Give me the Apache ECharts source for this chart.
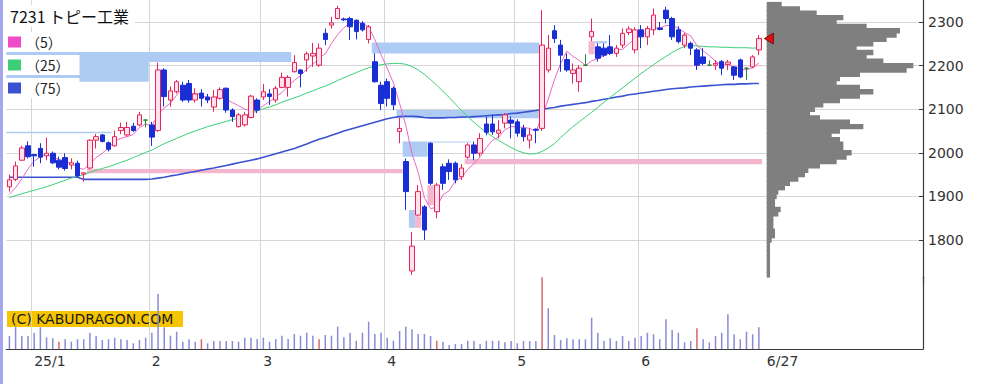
<!DOCTYPE html>
<html><head><meta charset="utf-8">
<script src="https://cdn.jsdelivr.net/npm/echarts@6.0.0/dist/echarts.min.js"></script>
<style>html,body{margin:0;padding:0;background:#fff}#c{width:989px;height:384px}</style>
</head><body><div id="c"></div>
<script>
const title = '7231 トピー工業';
const dates = ['12/25','12/26','12/27','12/30',
'01/06','01/07','01/08','01/09','01/10','01/14','01/15','01/16','01/17','01/20','01/21','01/22','01/23','01/24','01/27','01/28','01/29','01/30','01/31',
'02/03','02/04','02/05','02/06','02/07','02/10','02/12','02/13','02/14','02/17','02/18','02/19','02/20','02/21','02/25','02/26','02/27','02/28',
'03/03','03/04','03/05','03/06','03/07','03/10','03/11','03/12','03/13','03/14','03/17','03/18','03/19','03/21','03/24','03/25','03/26','03/27','03/28','03/31',
'04/01','04/02','04/03','04/04','04/07','04/08','04/09','04/10','04/11','04/14','04/15','04/16','04/17','04/18','04/21','04/22','04/23','04/24','04/25','04/28','04/30',
'05/01','05/02','05/07','05/08','05/09','05/12','05/13','05/14','05/15','05/16','05/19','05/20','05/21','05/22','05/23','05/26','05/27','05/28','05/29','05/30',
'06/02','06/03','06/04','06/05','06/06','06/09','06/10','06/11','06/12','06/13','06/16','06/17','06/18','06/19','06/20','06/23','06/24','06/25','06/26','06/27'];
const monthStarts = ['01/06','02/03','03/03','04/01','05/01','06/02'];
const tickLabels = {'01/06':'25/1','02/03':'2','03/03':'3','04/01':'4','05/01':'5','06/02':'6','06/27':'6/27'};

const opens = [1922,1939,1983,2016,1996,2010,1993,1999,1983,1989,1972,1976,1951,1965,2029,2041,2023,2016,2051,2041,
2061,2064,2075,2064,2051,2190,2121,2140,2155,2159,2121,2137,2128,2105,2125,2148,2098,2060,2064,2081,
2121,2128,2135,2121,2150,2150,2186,2190,2213,2222,2201,2274,2293,2308,2307,2308,2304,2297,2260,2209,
2155,2163,2148,2049,1980,1729,1857,1876,2022,1865,1968,1976,1976,1945,1990,2018,1999,2066,2066,2045,
2068,2075,2071,2056,2029,2054,2056,2190,2280,2247,2214,2182,2163,2201,2266,2243,2240,2243,2228,2247,
2276,2236,2282,2266,2282,2286,2327,2308,2282,2247,2251,2236,2220,2201,2201,2209,2203,2197,2213,2194,2197,2236];
const closes = [1938,1970,2011,1991,1993,1990,1999,1977,1967,1964,1977,1947,1954,2029,2037,2026,2008,2037,2058,2058,
2051,2087,2075,2036,2190,2129,2142,2163,2121,2121,2135,2125,2121,2128,2145,2098,2083,2087,2087,2130,
2098,2140,2129,2148,2173,2173,2207,2182,2227,2228,2240,2260,2298,2331,2305,2289,2278,2282,2289,2163,
2113,2125,2110,2056,1911,1786,1911,1823,1930,1926,1930,1957,1938,1965,2018,1999,2033,2047,2048,2052,
2087,2068,2045,2037,2041,2052,2247,2240,2262,2224,2190,2190,2194,2201,2278,2217,2224,2228,2240,2274,
2284,2282,2266,2285,2316,2283,2308,2266,2255,2270,2240,2201,2205,2201,2205,2194,2208,2178,2174,2194,2220,2262];
const lows = [1911,1935,1982,1987,1968,1976,1983,1974,1962,1959,1962,1944,1934,1962,2010,2024,2003,2014,2043,2037,
2048,2061,2058,2016,2048,2106,2106,2136,2117,2115,2115,2106,2114,2094,2122,2092,2071,2058,2060,2079,
2091,2121,2110,2115,2148,2129,2184,2150,2186,2197,2197,2247,2285,2306,2302,2259,2260,2278,2251,2161,
2098,2106,2098,2022,1869,1720,1854,1800,1926,1850,1915,1938,1930,1938,1986,1983,1991,2040,2041,2033,
2056,2033,2037,2026,2010,2022,2050,2184,2252,2186,2186,2159,2140,2199,2256,2209,2220,2224,2220,2240,
2270,2228,2240,2247,2270,2281,2297,2259,2251,2240,2224,2190,2201,2199,2190,2178,2190,2167,2171,2167,2194,2224];
const highs = [1950,1980,2016,2026,1997,2022,2035,2003,1991,1999,1987,1982,1955,2031,2043,2043,2026,2051,2069,2071,
2069,2094,2077,2071,2207,2194,2152,2167,2163,2167,2148,2146,2135,2144,2150,2150,2102,2091,2094,2133,
2125,2158,2146,2153,2184,2178,2224,2192,2232,2252,2251,2285,2312,2337,2310,2312,2306,2302,2293,2228,
2163,2170,2152,2080,1987,1818,1926,1880,2024,1931,1975,1985,1980,1974,2022,2026,2045,2083,2087,2075,
2091,2083,2077,2064,2056,2056,2327,2270,2293,2259,2228,2205,2201,2226,2308,2251,2251,2270,2247,2285,
2290,2288,2293,2291,2331,2300,2335,2312,2290,2275,2255,2240,2240,2212,2212,2213,2213,2199,2216,2196,2224,2270];

const ma5 = [1905,1920,1940,1963,1981,1991,1997,1990,1985,1979,1977,1966,1962,1974,1989,1999,2011,2027,2033,2037,
2042,2058,2066,2061,2088,2103,2114,2132,2149,2135,2136,2133,2125,2126,2131,2123,2115,2108,2100,2097,
2097,2108,2117,2129,2138,2153,2166,2177,2192,2203,2217,2227,2251,2271,2287,2297,2300,2297,2289,2260,
2225,2194,2160,2113,2063,1998,1955,1897,1872,1875,1904,1913,1936,1943,1962,1975,1991,2012,2029,2036,
2053,2060,2060,2058,2056,2049,2084,2123,2168,2205,2233,2221,2212,2200,2211,2216,2223,2230,2237,2237,
2250,2262,2269,2278,2287,2286,2292,2292,2286,2276,2268,2246,2234,2223,2210,2201,2203,2197,2192,2190,2195,2206];
const ma25 = [1897,1902,1906,1910,1914,1918,1922,1927,1932,1937,1942,1946,1950,1955,1960,1964,1968,1973,1978,1983,
1989,1995,2001,2006,2014,2021,2027,2033,2039,2045,2050,2055,2060,2064,2068,2072,2076,2080,2085,2090,
2096,2101,2105,2110,2116,2121,2126,2131,2137,2142,2148,2153,2159,2166,2172,2178,2184,2190,2195,2199,
2202,2204,2205,2205,2203,2198,2190,2180,2168,2155,2141,2127,2112,2097,2083,2070,2058,2047,2037,2028,
2020,2012,2005,2000,1997,1998,2003,2011,2021,2035,2048,2060,2071,2082,2093,2104,2116,2127,2138,2149,
2160,2171,2182,2192,2202,2212,2221,2230,2238,2244,2246,2245,2244,2243,2243,2242,2242,2241,2241,2241,2240,2241];
const ma75 = [1944,1944,1944,1944,1944,1944,1944,1944,1944,1944,1944,1944,1939,1939,1939,1939,1939,1939,1939,1939,
1939,1939,1939,1940,1942,1944,1947,1949,1952,1955,1957,1960,1963,1965,1968,1971,1974,1977,1980,1983,
1986,1990,1994,1998,2002,2006,2010,2015,2020,2026,2031,2035,2040,2045,2050,2054,2058,2062,2066,2070,
2074,2078,2081,2083,2084,2084,2083,2081,2080,2080,2080,2081,2081,2082,2082,2083,2084,2085,2086,2087,
2088,2090,2091,2093,2095,2097,2099,2102,2104,2107,2109,2111,2113,2115,2118,2120,2123,2125,2128,2130,
2133,2135,2137,2139,2141,2143,2145,2147,2148,2149,2151,2152,2153,2154,2155,2156,2157,2157,2158,2158,2159,2159];

const volumes = [130,223,130,130,163,217,117,107,73,97,73,97,97,163,130,90,97,113,97,90,
57,90,113,163,550,217,133,173,73,97,73,97,57,80,80,80,80,73,113,113,
100,113,73,100,133,100,150,133,163,133,97,140,133,223,117,163,83,163,273,150,
163,113,83,180,223,197,150,150,130,83,73,40,50,50,83,83,50,83,83,83,
67,80,57,80,80,80,717,407,140,90,107,97,97,97,313,163,83,107,80,130,
80,113,130,163,147,97,297,190,163,67,80,207,97,67,130,163,347,147,97,173,147,217];
const markedVolumeDays = [8,31,50,69,86,111];

// price gaps (窓): [first index, last index, low price, high price, direction]
const gapBands = [
  [0,45,2208,2231,'down'],
  [0,22,2163,2208,'down'],
  [0,16,2045,2048,'down'],
  [13,63,1953,1963,'up'],
  [59,85,2228,2253,'down'],
  [63,85,2079,2098,'down'],
  [64,67,1991,2026,'down'],
  [68,74,2024,2026,'down'],
  [65,65,1828,1869,'down'],
  [66,66,1828,1854,'up'],
  [68,68,1880,1926,'up'],
  [74,121,1974,1986,'up'],
  [93,121,2199,2201,'up'],
  [94,94,2226,2256,'up'],
  [95,96,2251,2256,'down']
];

// volume-at-price profile (bins of 10 yen)
const profileBin = 10;
const profilePrices = [1720,1730,1740,1750,1760,1770,1780,1790,1800,1810,1820,1830,1840,1850,1860,1870,1880,1890,1900,1910,
1920,1930,1940,1950,1960,1970,1980,1990,2000,2010,2020,2030,2040,2050,2060,2070,2080,2090,2100,2110,
2120,2130,2140,2150,2160,2170,2180,2190,2200,2210,2220,2230,2240,2250,2260,2270,2280,2290,2300,2310,2320,2330,2340];
const profileVolumes = [10,10,10,10,10,10,10,10,15,25,25,20,20,20,35,42,25,25,30,35,
55,70,95,115,125,160,210,240,255,230,230,220,195,220,290,250,160,130,145,170,
220,280,320,280,210,220,280,420,440,350,300,320,270,320,360,390,400,300,210,230,150,100,45];

const yTicks = [1800, 2300];
const priceRange = [1700, 2350];

const PAD = 26;
const categories = dates.concat(Array.from({length: PAD}, (_, k) => 'pad' + k));
const ohlc = dates.map((d, i) => [opens[i], closes[i], lows[i], highs[i]]);

const FONT = 'DejaVu Sans';
const JP = 'Noto Sans CJK JP';
const GRID = '#d6d6d6';
const AX = '#3a3a3a';
const isMonth = (i, v) => monthStarts.indexOf(v) >= 0;

const chart = echarts.init(document.getElementById('c'), null, {renderer: 'svg', width: 989, height: 384});

const legendBase = {
  orient: 'vertical', left: 4, itemWidth: 13, itemHeight: 11, itemGap: 0,
  padding: [3, 10, 3, 4], backgroundColor: '#fff', selectedMode: false,
  textStyle: {fontSize: 14, color: '#222', fontFamily: JP}
};

chart.setOption({
  animation: false,
  backgroundColor: '#fff',
  title: {text: title, left: 4, top: 5, padding: [3, 6, 3, 6], backgroundColor: '#fff',
    textStyle: {fontSize: 16, fontWeight: 'normal', color: '#111', fontFamily: JP}},
  legend: [
    Object.assign({}, legendBase, {top: 32, data: [{name: '（5）', icon: 'rect'}]}),
    Object.assign({}, legendBase, {top: 55, data: [{name: '（25）', icon: 'rect'}]}),
    Object.assign({}, legendBase, {top: 78, data: [{name: '（75）', icon: 'rect'}]})
  ],
  grid: [
    {left: 6.3, top: 0.2, width: 916.7, height: 283.4, containLabel: false, outerBoundsMode: 'none'},
    {left: 6.3, top: 277.3, width: 916.7, height: 71.7, containLabel: false, outerBoundsMode: 'none'},
    {left: 766.7, top: 0.2, width: 156.3, height: 283.4, containLabel: false, outerBoundsMode: 'none'},
    {left: 766.7, top: 22, width: 156.3, height: 218, containLabel: false, outerBoundsMode: 'none'}
  ],
  xAxis: [
    {gridIndex: 0, type: 'category', data: categories, boundaryGap: true,
      axisLine: {show: false}, axisTick: {show: false}, axisLabel: {show: false},
      splitLine: {show: true, interval: isMonth, lineStyle: {color: GRID, width: 1}}},
    {gridIndex: 1, type: 'category', data: categories, boundaryGap: true,
      axisLine: {show: true, onZero: false, lineStyle: {color: AX, width: 1.2}},
      axisTick: {show: false},
      axisLabel: {show: true, interval: (i, v) => tickLabels[v] !== undefined, align: 'left', margin: 5,
        fontSize: 14, color: '#333', fontFamily: FONT,
        formatter: v => v === dates[dates.length - 1] ? '{e|' + tickLabels[v] + '}' : (tickLabels[v] || ''),
        rich: {e: {padding: [0, 0, 0, 8], fontSize: 14, color: '#333', fontFamily: FONT}}},
      splitLine: {show: true, interval: isMonth, lineStyle: {color: GRID, width: 1}}},
    {gridIndex: 2, type: 'value', min: 0, max: 469, show: false},
    {gridIndex: 3, type: 'value', min: 0, max: 1, show: false}
  ],
  yAxis: [
    {gridIndex: 0, type: 'value', min: priceRange[0], max: priceRange[1], interval: 100,
      axisLine: {show: false}, axisTick: {show: false}, axisLabel: {show: false},
      splitLine: {show: true, showMinLine: false, showMaxLine: false, lineStyle: {color: GRID, width: 1}}},
    {gridIndex: 1, type: 'value', min: 0, max: Math.max(...volumes), position: 'right',
      axisLine: {show: true, onZero: false, lineStyle: {color: AX, width: 1.2}},
      axisTick: {show: false}, axisLabel: {show: false}, splitLine: {show: false}},
    {gridIndex: 2, type: 'value', min: priceRange[0], max: priceRange[1], interval: 100, position: 'right',
      axisLine: {show: true, onZero: false, lineStyle: {color: AX, width: 1.2}},
      axisTick: {show: false}, axisLabel: {show: false}, splitLine: {show: false}},
    {gridIndex: 3, type: 'value', min: yTicks[0], max: yTicks[1], interval: 100, position: 'right',
      axisLine: {show: false, onZero: false},
      axisTick: {show: true, inside: true, length: 4, lineStyle: {color: AX}},
      axisLabel: {show: true, margin: 5, fontSize: 14, color: '#333', fontFamily: FONT, formatter: v => String(v)},
      splitLine: {show: false}}
  ],
  series: [
    {type: 'custom', name: 'gaps', xAxisIndex: 0, yAxisIndex: 0, z: 1, silent: true,
      data: gapBands, encode: {x: [0, 1], y: [2, 3]},
      renderItem: (params, api) => {
        const s = api.value(0), e = api.value(1), lo = api.value(2), hi = api.value(3);
        const kind = gapBands[params.dataIndex][4];
        const w = api.size([1, 0])[0];
        const a = api.coord([s, hi]);
        const b = api.coord([e, lo]);
        return {type: 'rect', shape: {x: a[0] - w / 2, y: a[1], width: b[0] - a[0] + w, height: Math.max(b[1] - a[1], 1)},
          style: {fill: kind === 'up' ? '#f4b6cf' : '#aecbf3'}};
      }},
    {type: 'line', name: '（75）', xAxisIndex: 0, yAxisIndex: 0, data: ma75, color: '#3a52d0', showSymbol: false, z: 2,
      lineStyle: {color: '#3a52d0', width: 1.6}},
    {type: 'line', name: '（25）', xAxisIndex: 0, yAxisIndex: 0, data: ma25, color: '#3ccf78', showSymbol: false, z: 2,
      lineStyle: {color: '#3ccf78', width: 1}},
    {type: 'line', name: '（5）', xAxisIndex: 0, yAxisIndex: 0, data: ma5, color: '#ee4cc4', showSymbol: false, z: 2,
      lineStyle: {color: '#e86ac6', width: 1}},
    {type: 'candlestick', name: 'price', xAxisIndex: 0, yAxisIndex: 0, data: ohlc, barWidth: 5, z: 3,
      itemStyle: {color: '#ffe2ec', color0: '#1a2ed6', borderColor: '#e6245a', borderColor0: '#1a2ed6',
        borderColorDoji: '#1f8a2a', borderWidth: 1},
      markPoint: {silent: true, symbol: 'triangle', symbolSize: [11, 9], symbolRotate: 90, symbolOffset: [10, 0],
        label: {show: false},
        itemStyle: {color: '#e01010', borderColor: '#600', borderWidth: 0.8},
        data: [{coord: [dates[dates.length - 1], closes[closes.length - 1]]}]}},
    {type: 'bar', name: 'volume', xAxisIndex: 1, yAxisIndex: 1, data: volumes, barWidth: 1.5,
      itemStyle: {color: p => markedVolumeDays.indexOf(p.dataIndex) >= 0 ? '#d46a6a' : '#8a8ad8'}},
    {type: 'custom', name: 'profile', xAxisIndex: 2, yAxisIndex: 2, z: 3, silent: true,
      data: profilePrices.map((p, k) => [profileVolumes[k], p]), encode: {x: 0, y: 1},
      renderItem: (params, api) => {
        const v = api.value(0), p = api.value(1);
        const a = api.coord([0, p + profileBin / 2]);
        const b = api.coord([v, p - profileBin / 2]);
        return {type: 'rect', shape: {x: a[0], y: a[1] - 0.5, width: b[0] - a[0], height: b[1] - a[1] + 1},
          style: {fill: '#7f7f7f', stroke: null}};
      }}
  ],
  graphic: [
    {type: 'rect', left: 0, top: 0, shape: {x: 0, y: 0, width: 3, height: 384}, style: {fill: '#a6a6ee'}, z: 100},
    {type: 'group', left: 7, top: 311, z: 100, children: [
      {type: 'rect', shape: {x: 0, y: 0, width: 176, height: 16}, style: {fill: '#f6c500'}},
      {type: 'text', x: 4, y: 8, style: {text: '(C) KABUDRAGON.COM', font: '14px "DejaVu Sans"', fill: '#1a1a1a', verticalAlign: 'middle'}}
    ]}
  ]
});
</script></body></html>
